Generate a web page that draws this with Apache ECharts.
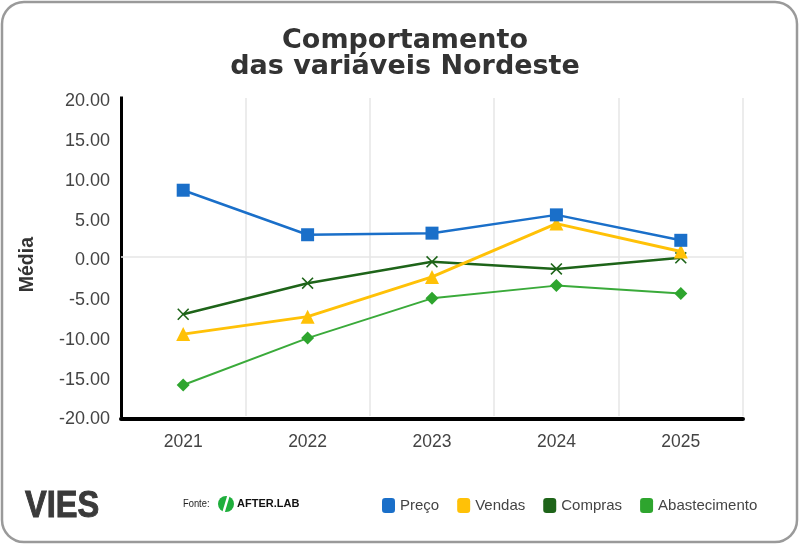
<!DOCTYPE html>
<html><head><meta charset="utf-8">
<script src="https://cdn.jsdelivr.net/npm/echarts@6/dist/echarts.min.js"></script>
<style>html,body{margin:0;padding:0;background:#fff}#c{width:800px;height:545px}</style>
</head><body><div id="c"></div>
<script>
const categories = ['2021', '2022', '2023', '2024', '2025'];
const preco = [8.4, 2.8, 3.0, 5.3, 2.1];
const vendas = [-9.7, -7.5, -2.5, 4.2, 0.7];
const compras = [-7.2, -3.3, -0.6, -1.5, -0.1];
const abastecimento = [-16.1, -10.2, -5.2, -3.6, -4.6];
const seriesNames = ['Preço', 'Vendas', 'Compras', 'Abastecimento'];
const yMin = -20, yMax = 20, yStep = 5;

const xPath = 'path://M1.3,0L7,5.7L12.7,0L14,1.3L8.3,7L14,12.7L12.7,14L7,8.3L1.3,14L0,12.7L5.7,7L0,1.3Z';

const chart = echarts.init(document.getElementById('c'));
chart.setOption({
  animation: false,
  backgroundColor: '#fff',
  title: {
    text: 'Comportamento\ndas variáveis Nordeste',
    left: 400, top: 23,
    textAlign: 'center',
    textStyle: { fontFamily: 'DejaVu Sans', fontWeight: 'bold', fontSize: 27, lineHeight: 26, color: '#333' }
  },
  graphic: [
    { type: 'rect', z: -10, silent: true, shape: { x: 2, y: 2, width: 795, height: 540, r: 22 },
      style: { fill: '#fff', stroke: '#9a9a9a', lineWidth: 2.5 } },
    { type: 'text', left: 18, top: 237, rotation: Math.PI / 2, silent: true,
      style: { text: 'Média', font: 'bold 19.5px "Liberation Sans", Arial', fill: '#333' } },
    { type: 'text', x: 25, y: 488, scaleX: 0.88, silent: true,
      style: { text: 'VIES', font: 'bold 37px "Liberation Sans", Arial', fill: '#3a3a3a', stroke: '#3a3a3a', lineWidth: 1 } },
    { type: 'text', x: 183, y: 498, scaleX: 0.85, silent: true,
      style: { text: 'Fonte:', font: '11px "Liberation Sans", Arial', fill: '#222' } },
    { type: 'circle', silent: true, shape: { cx: 226, cy: 504, r: 8 }, style: { fill: '#1fae3c' } },
    { type: 'line', silent: true, shape: { x1: 223, y1: 514, x2: 229, y2: 494 }, style: { stroke: '#fff', lineWidth: 2.5 } },
    { type: 'text', left: 237, top: 498, silent: true,
      style: { text: 'AFTER.LAB', font: 'bold 11px "Liberation Sans", Arial', fill: '#111' } }
  ],
  legend: {
    data: seriesNames,
    left: 377, top: 493,
    icon: 'roundRect', itemWidth: 13, itemHeight: 15, itemGap: 18,
    textStyle: { fontFamily: 'Liberation Sans', fontSize: 15, color: '#444' }
  },
  grid: { left: 121, right: 57, top: 98, bottom: 129, containLabel: false },
  xAxis: {
    type: 'category', data: categories, boundaryGap: true, offset: 3,
    axisLine: { onZero: false, lineStyle: { color: '#000', width: 4 } },
    axisTick: { show: false },
    axisLabel: { color: '#444', fontSize: 17.5, fontFamily: 'Liberation Sans', margin: 14 },
    splitLine: { show: true, lineStyle: { color: '#e6e6e6', width: 1.5 } }
  },
  yAxis: {
    type: 'value', min: yMin, max: yMax, interval: yStep,
    axisLine: { show: true, lineStyle: { color: '#000', width: 3, cap: 'square' } },
    axisTick: { show: false },
    splitLine: { show: false },
    axisLabel: { color: '#444', fontSize: 18, fontFamily: 'Liberation Sans', margin: 11,
      verticalAlign: 'top', lineHeight: 7, formatter: v => v.toFixed(2) }
  },
  series: [
    { name: 'Preço', type: 'line', data: preco, symbol: 'rect', symbolSize: 13,
      itemStyle: { color: '#1a6fc9' }, lineStyle: { width: 2.5, color: '#1a6fc9' }, z: 5,
      markLine: { silent: true, symbol: 'none', label: { show: false },
        lineStyle: { color: '#e6e6e6', width: 1.5, type: 'solid' }, data: [{ yAxis: 0 }], z: 1 } },
    { name: 'Vendas', type: 'line', data: vendas, symbol: 'triangle', symbolSize: 14,
      itemStyle: { color: '#ffc107' }, lineStyle: { width: 3, color: '#ffc107' }, z: 4 },
    { name: 'Compras', type: 'line', data: compras, symbol: xPath, symbolSize: 12,
      itemStyle: { color: '#1e6419' }, lineStyle: { width: 2.5, color: '#1e6419' }, z: 3 },
    { name: 'Abastecimento', type: 'line', data: abastecimento, symbol: 'diamond', symbolSize: 13,
      itemStyle: { color: '#2ea52e' }, lineStyle: { width: 2, color: '#3aaa3a' }, z: 2 }
  ]
});
</script></body></html>
